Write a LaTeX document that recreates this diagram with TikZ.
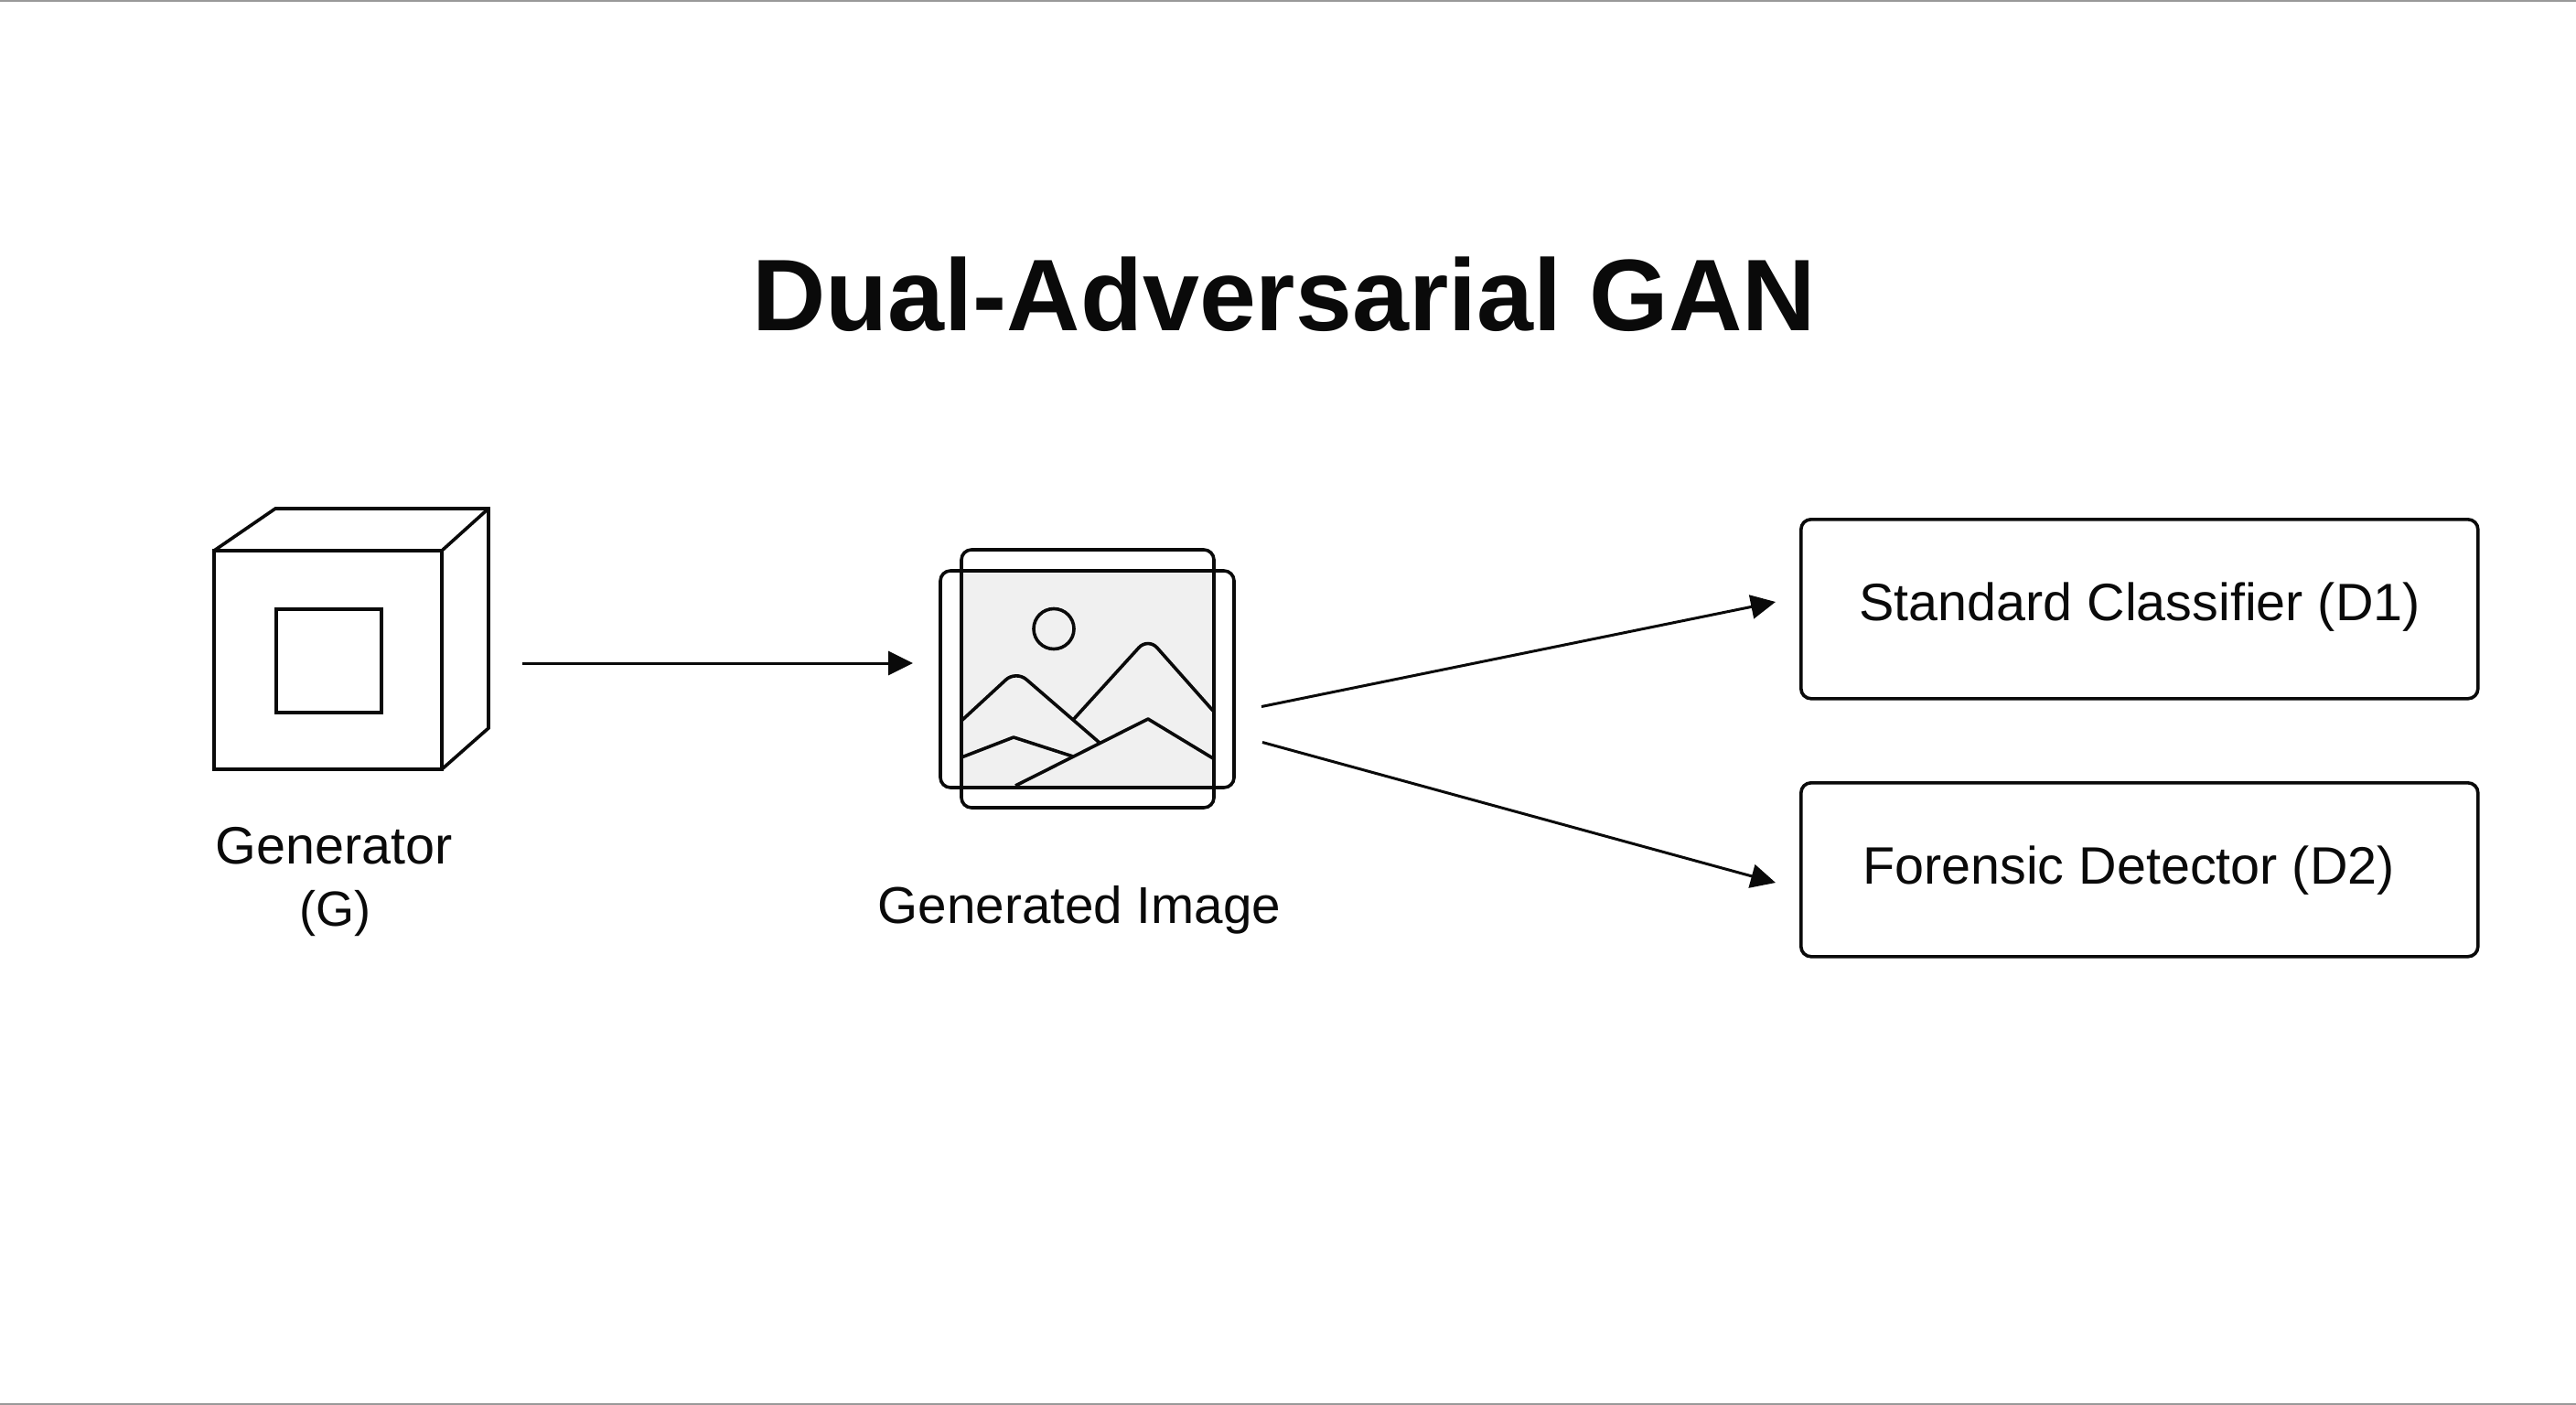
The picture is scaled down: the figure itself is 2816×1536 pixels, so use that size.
\documentclass[tikz,border=0pt]{standalone}
\usepackage{fontspec}
\setmainfont{Liberation Sans}
\usetikzlibrary{arrows.meta}
\definecolor{ink}{HTML}{0A0A0A}
\definecolor{imgfill}{HTML}{F0F0F0}
\definecolor{edge}{HTML}{999999}
\tikzset{
  outline/.style={draw=ink,line width=3.6pt,line join=miter},
  thin outline/.style={draw=ink,line width=3.6pt,rounded corners=11pt},
  peak/.style={draw=ink,line width=3.6pt,rounded corners=15pt},
  ridge/.style={draw=ink,line width=3.6pt,line join=round},
  link/.style={draw=ink,line width=3pt,-{Triangle[length=27pt,width=26pt]},shorten >=0pt},
  label/.style={text=ink,font=\fontsize{57.5pt}{66pt}\selectfont,anchor=base,inner sep=0pt},
  box/.style={draw=ink,line width=3.6pt,rounded corners=11pt,inner sep=0pt,anchor=north west},
}
\begin{document}
\begin{tikzpicture}[x=1pt,y=-1pt]
\useasboundingbox (0,0) rectangle (2816,1536);
\fill[white] (0,0) rectangle (2816,1536);
\draw[edge,line width=2pt] (0,1) -- (2816,1);
\draw[edge,line width=2pt] (0,1535) -- (2816,1535);
% title
\node[text=ink,font=\fontsize{111.3pt}{120pt}\selectfont\bfseries,anchor=base,inner sep=0pt] (title) at (1404,361) {Dual-Adversarial GAN};
% generator cube
\draw[outline] (234,602) rectangle (483,841);
\draw[outline] (234,602) -- (301,556) -- (534,556) -- (534,796) -- (483,841);
\draw[outline] (483,602) -- (534,556);
\draw[outline] (302,666) rectangle (417,779);
\node[label] (genA) at (365,944) {Generator};
\node[label,font=\fontsize{54pt}{66pt}\selectfont] (genB) at (366,1012) {(G)};
% image icon
\fill[imgfill] (1051,624) rectangle (1327,861);
\draw[ridge] (1152,687.5) circle (22);
\draw[peak] (1051,788) -- (1110.6,733) -- (1202,812);
\draw[peak] (1173,787) -- (1255,697) -- (1326,777);
\draw[ridge] (1051,828) -- (1108,806) -- (1173,827);
\draw[ridge] (1110,859) -- (1255,786) -- (1326,829);
\draw[thin outline] (1051,601) rectangle (1327,883);
\draw[thin outline] (1028,624) rectangle (1349,861);
\node[label,font=\fontsize{56.6pt}{66pt}\selectfont] (img) at (1180,1009) {Generated Image};
% detector boxes
\node[box,minimum width=740pt,minimum height=196pt] (d1) at (1967,566) {};
\node[box,minimum width=740pt,minimum height=190pt] (d2) at (1967,854) {};
\node[label] at (2339,678) {Standard Classifier (D1)};
\node[label] at (2327,966) {Forensic Detector (D2)};
% connectors
\coordinate (genOut) at (571,725);
\coordinate (imgIn) at (998,725);
\coordinate (imgOutA) at (1379,772.5);
\coordinate (d1In) at (1941,658);
\coordinate (imgOutB) at (1380,811.5);
\coordinate (d2In) at (1941,965);
\draw[link] (genOut) -- (imgIn);
\draw[link] (imgOutA) -- (d1In);
\draw[link] (imgOutB) -- (d2In);
\end{tikzpicture}
\end{document}
